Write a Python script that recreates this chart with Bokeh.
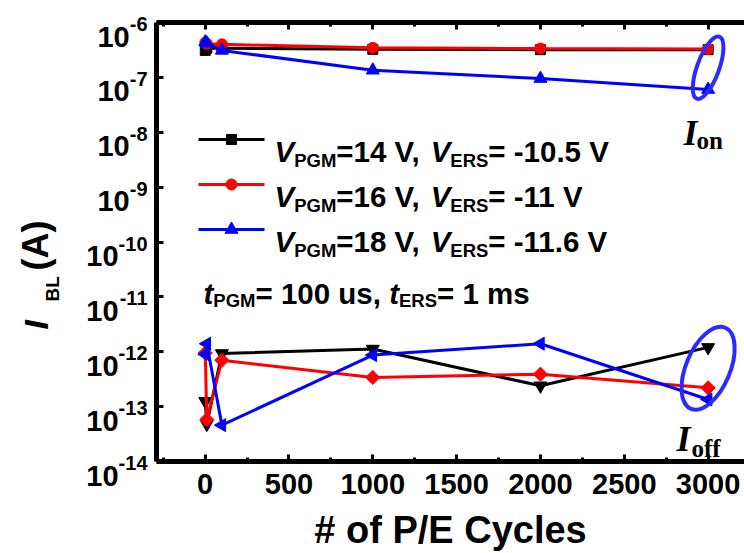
import math

from bokeh.embed import file_html
from bokeh.layouts import row
from bokeh.models import FixedTicker, Label, LinearAxis, Range1d
from bokeh.plotting import figure
from bokeh.resources import INLINE

# ---- data -----------------------------------------------------------------
cycles = [1, 10, 100, 1000, 2000, 3000]

# on-state bit-line current (A)
ion_14v = [3.1e-7, 3.4e-7, 3.4e-7, 3.25e-7, 3.2e-7, 3.2e-7]
ion_16v = [4.3e-7, 4.1e-7, 4.0e-7, 3.45e-7, 3.35e-7, 3.3e-7]
ion_18v = [4.4e-7, 4.2e-7, 3.1e-7, 1.35e-7, 9.5e-8, 6.0e-8]

# off-state bit-line current (A)
ioff_14v = [1.25e-13, 4.8e-14, 9.3e-13, 1.12e-12, 2.4e-13, 1.2e-12]
ioff_16v = [9.5e-13, 5.8e-14, 7.0e-13, 3.4e-13, 3.9e-13, 2.2e-13]
ioff_18v = [9.0e-13, 1.4e-12, 4.6e-14, 8.7e-13, 1.4e-12, 1.35e-13]

v_pgm = ["14", "16", "18"]
v_ers = ["-10.5", "-11", "-11.6"]
t_pgm = "100 us"
t_ers = "1 ms"

x_ticks = [0, 500, 1000, 1500, 2000, 2500, 3000]
x_minor = [-250, 250, 750, 1250, 1750, 2250, 2750, 3250]
y_exponents = [-14, -13, -12, -11, -10, -9, -8, -7, -6]

# ---- layout ---------------------------------------------------------------
W, H = 744, 553
STRIP_W = 148                 # left strip: decade labels and y title
LEFT, RIGHT, TOP, BOTTOM = 156, 0, 22, 92
X_START, X_END = -290, 3217
Y_LO, Y_HI = 1e-14, 1e-6
FRAME_W = W - LEFT - RIGHT
FRAME_H = H - TOP - BOTTOM

BLACK, RED, BLUE = "#000000", "#ff0000", "#0000ff"
RING = "#2b2bff"
SANS = "Liberation Sans"
SERIF = "Liberation Serif"


def xd(px):
    """page x pixel -> data x of the main plot"""
    return X_START + (px - LEFT) / FRAME_W * (X_END - X_START)


def yd(py):
    """page y pixel -> data y of the main plot (log axis)"""
    lo, hi = math.log10(Y_LO), math.log10(Y_HI)
    return 10 ** (hi - (py - TOP) / FRAME_H * (hi - lo))


def y_px(exp):
    lo, hi = math.log10(Y_LO), math.log10(Y_HI)
    return TOP + (hi - exp) / (hi - lo) * FRAME_H


# advance widths of the bold sans face (1/1000 em)
BOLD_W = {" ": 278, ",": 278, "-": 333, ".": 278, "=": 584, "E": 667, "G": 778,
          "M": 833, "P": 667, "R": 722, "S": 667, "V": 667, "m": 889, "s": 556,
          "t": 333, "u": 611}
for d in "0123456789":
    BOLD_W[d] = 556


def text_w(s, size):
    return sum(BOLD_W.get(c, 556) for c in s) / 1000 * size


def label(x, y, text, size, font=SANS, style="bold", align="left", angle=0.0):
    return Label(x=x, y=y, text=text, text_font=font, text_font_size=f"{size}px",
                 text_font_style=style, text_align=align,
                 text_baseline="alphabetic", angle=angle, text_color="black")


# ---- main plot --------------------------------------------------------------
fig = figure(width=W - STRIP_W, height=H,
             x_range=Range1d(X_START, X_END), y_range=Range1d(Y_LO, Y_HI),
             y_axis_type="log", output_backend="svg", toolbar_location=None,
             min_border_left=LEFT - STRIP_W, min_border_right=RIGHT,
             min_border_top=TOP, min_border_bottom=BOTTOM)
fig.frame_align = False
fig.grid.visible = False
fig.outline_line_color = None
fig.background_fill_color = "white"


def put(text, px, py, size, **kw):
    fig.add_layout(label(xd(px), yd(py), text, size, **kw))


def style_x(ax):
    ax.ticker = FixedTicker(ticks=x_ticks, minor_ticks=x_minor)
    ax.axis_line_width = 5
    ax.major_tick_in = 7
    ax.major_tick_out = 0
    ax.major_tick_line_width = 3
    ax.minor_tick_in = 4
    ax.minor_tick_out = 0
    ax.minor_tick_line_width = 3


xa = fig.xaxis[0]
style_x(xa)
xa.major_label_text_font = SANS
xa.major_label_text_font_size = "29px"
xa.major_label_text_font_style = "bold"
xa.major_label_text_color = "black"
xa.major_label_standoff = 12
xa.axis_label = "# of P/E Cycles"
xa.axis_label_text_font = SANS
xa.axis_label_text_font_size = "38px"
xa.axis_label_text_font_style = "bold"
xa.axis_label_text_color = "black"
xa.axis_label_standoff = 12

top = LinearAxis()
style_x(top)
top.major_label_text_font_size = "1px"
top.major_label_text_color = None
top.major_label_standoff = 0
fig.add_layout(top, "above")

ya = fig.yaxis[0]
ya.ticker = FixedTicker(ticks=[10.0 ** e for e in y_exponents])
ya.axis_line_width = 5
ya.major_tick_in = 7
ya.major_tick_out = 0
ya.major_tick_line_width = 3
ya.minor_tick_line_color = None
ya.major_label_text_font_size = "1px"
ya.major_label_text_color = None
ya.major_label_standoff = 0

# data series: on-state (upper) and off-state (lower) branches
series = [
    (ion_14v, ioff_14v, BLACK, "square", 10, "inverted_triangle", 0.0, 13),
    (ion_16v, ioff_16v, RED, "circle", 11, "square", math.pi / 4, 10),
    (ion_18v, ioff_18v, BLUE, "triangle", 13, "triangle", math.pi / 2, 13),
]
for on, off, col, m_on, s_on, m_off, a_off, s_off in series:
    fig.line(cycles, on, line_width=3, color=col)
    fig.scatter(cycles, on, marker=m_on, size=s_on, color=col)
    fig.line(cycles, off, line_width=3, color=col)
    fig.scatter(cycles, off, marker=m_off, size=s_off, angle=a_off, color=col)

# rings around the last-cycle readings
fig.ellipse(x=[cycles[-1]], y=[1.5e-7], width=22, height=66, angle=-0.35,
            width_units="screen", height_units="screen",
            fill_color=None, line_color=RING, line_width=4)
fig.ellipse(x=[cycles[-1]], y=[5.0e-13], width=44, height=88, angle=-0.4,
            width_units="screen", height_units="screen",
            fill_color=None, line_color=RING, line_width=4)

put("I", 683, 132, 36, font=SERIF, style="bold italic")
put("on", 696, 140, 25, font=SERIF)
put("I", 676, 438, 36, font=SERIF, style="bold italic")
put("off", 691, 448, 25, font=SERIF)

# legend
MAIN, SUB, DROP = 29.5, 18.5, 9
legend_rows = [(151, BLACK, "square", 10, 0), (196, RED, "circle", 11, 1),
               (241, BLUE, "triangle", 13, 2)]
for base, col, mk, ms, i in legend_rows:
    ly = yd(base - 12)
    fig.line([xd(198), xd(264)], [ly, ly], line_width=3, color=col)
    fig.scatter([xd(231)], [ly], marker=mk, size=ms, color=col)
    pieces = [("V", "bold italic", MAIN, 0), ("PGM", "bold", SUB, DROP),
              (f"={v_pgm[i]} V, ", "bold", MAIN, 0), ("V", "bold italic", MAIN, 0),
              ("ERS", "bold", SUB, DROP), (f"= {v_ers[i]} V", "bold", MAIN, 0)]
    x = 274
    for txt, st, sz, dy in pieces:
        put(txt, x, base + dy, sz, style=st)
        x += text_w(txt, sz)

x = 203
for txt, st, sz, dy in [("t", "bold italic", MAIN, 0), ("PGM", "bold", SUB, 7),
                        (f"= {t_pgm}, ", "bold", MAIN, 0), ("t", "bold italic", MAIN, 0),
                        ("ERS", "bold", SUB, 7), (f"= {t_ers}", "bold", MAIN, 0)]:
    put(txt, x, 293 + dy, sz, style=st)
    x += text_w(txt, sz)

# ---- left strip: decade labels and the y-axis title -----------------------
# its frame covers the whole strip, measured in page pixels (y downwards)
ystrip = figure(width=STRIP_W, height=H, x_range=Range1d(0, STRIP_W),
                y_range=Range1d(H, 0), output_backend="svg",
                toolbar_location=None, x_axis_location=None,
                y_axis_location=None, min_border=0)
ystrip.frame_align = False
ystrip.grid.visible = False
ystrip.outline_line_color = None
ystrip.background_fill_color = "white"

SUP = 20
for e in y_exponents:
    ty = y_px(e)
    sup = f"{e}"
    sw = text_w(sup, SUP)
    ystrip.add_layout(label(147, ty + 1.5, sup, SUP, align="right"))
    ystrip.add_layout(label(147 - sw, ty + 14, "10", 29, align="right"))

ystrip.add_layout(label(35, 329, "I", 34, style="bold italic", angle=math.pi / 2))
ystrip.add_layout(label(52, 301, "BL", 19, angle=math.pi / 2))
ystrip.add_layout(label(35, 270, "(A)", 36, angle=math.pi / 2))

p = row(ystrip, fig, spacing=0)

open("out.html", "w").write(file_html(p, INLINE))
